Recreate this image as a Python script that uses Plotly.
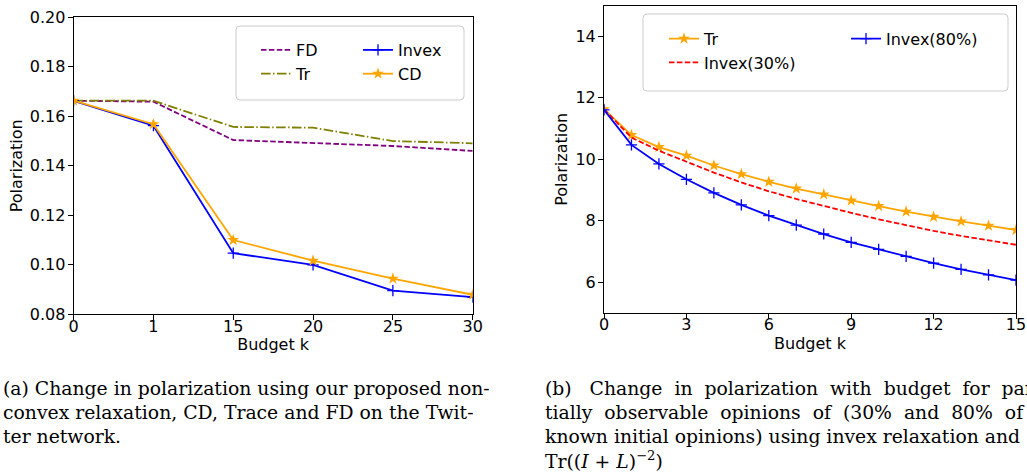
import plotly.graph_objects as go

W, H = 1027, 473

# ---- Left panel data (Twitter network) ----
budget_a = ["0", "1", "15", "20", "25", "30"]
fd_a = [0.1663, 0.1659, 0.1504, 0.1491, 0.1480, 0.1460]
tr_a = [0.1663, 0.1663, 0.1557, 0.1554, 0.1500, 0.1491]
invex_a = [0.1662, 0.1562, 0.1047, 0.1000, 0.0896, 0.0869]
cd_a = [0.1663, 0.1568, 0.1100, 0.1017, 0.0944, 0.0879]

# ---- Right panel data (partially observable opinions) ----
budget_b = list(range(16))
tr_b = [11.63, 10.79, 10.40, 10.12, 9.80, 9.52, 9.27, 9.05, 8.86, 8.66, 8.48, 8.30, 8.13, 7.98, 7.84, 7.70]
invex30_b = [11.63, 10.71, 10.28, 9.92, 9.57, 9.25, 8.96, 8.71, 8.48, 8.26, 8.05, 7.86, 7.67, 7.51, 7.36, 7.22]
invex80_b = [11.61, 10.47, 9.85, 9.35, 8.91, 8.52, 8.17, 7.86, 7.57, 7.30, 7.07, 6.84, 6.62, 6.42, 6.24, 6.07]

ticks_a_y = [0.08, 0.10, 0.12, 0.14, 0.16, 0.18, 0.20]
ticks_b_x = [0, 3, 6, 9, 12, 15]
ticks_b_y = [6, 8, 10, 12, 14]

caption_a = [
    "(a) Change in polarization using our proposed non-",
    "convex relaxation, CD, Trace and FD on the Twit-",
    "ter network.",
]
caption_b = [
    "(b)&nbsp;&nbsp; Change&nbsp; in&nbsp; polarization&nbsp; with&nbsp; budget&nbsp; for&nbsp; par-",
    "tially&nbsp; observable&nbsp; opinions&nbsp; of&nbsp; (30%&nbsp; and&nbsp; 80%&nbsp; of",
    "known initial opinions) using invex relaxation and",
    "Tr((<i>I</i> + <i>L</i>)<sup>−2</sup>)",
]

FONT = "DejaVu Sans"
SERIF = "DejaVu Serif"
LW = 1.8
DASH = "5.5px,2.4px"
DASHDOT = "9.6px,2.4px,1.5px,2.4px"

fig = go.Figure()

# Left panel traces
fig.add_trace(go.Scatter(x=budget_a, y=fd_a, name="FD", mode="lines",
                         line=dict(color="purple", width=LW, dash=DASH),
                         legend="legend", xaxis="x", yaxis="y"))
fig.add_trace(go.Scatter(x=budget_a, y=tr_a, name="Tr", mode="lines",
                         line=dict(color="olive", width=LW, dash=DASHDOT),
                         legend="legend", xaxis="x", yaxis="y"))
fig.add_trace(go.Scatter(x=budget_a, y=invex_a, name="Invex", mode="lines+markers",
                         line=dict(color="blue", width=LW),
                         marker=dict(symbol="cross-thin", size=8, line=dict(color="blue", width=1.3)),
                         legend="legend2", xaxis="x", yaxis="y"))
fig.add_trace(go.Scatter(x=budget_a, y=cd_a, name="CD", mode="lines+markers",
                         line=dict(color="orange", width=LW),
                         marker=dict(symbol="star", size=9, color="orange"),
                         legend="legend2", xaxis="x", yaxis="y"))

# Right panel traces
fig.add_trace(go.Scatter(x=budget_b, y=tr_b, name="Tr", mode="lines+markers",
                         line=dict(color="orange", width=LW),
                         marker=dict(symbol="star", size=9, color="orange"),
                         legend="legend3", xaxis="x2", yaxis="y2"))
fig.add_trace(go.Scatter(x=budget_b, y=invex30_b, name="Invex(30%)", mode="lines",
                         line=dict(color="red", width=LW, dash=DASH),
                         legend="legend3", xaxis="x2", yaxis="y2"))
fig.add_trace(go.Scatter(x=budget_b, y=invex80_b, name="Invex(80%)", mode="lines+markers",
                         line=dict(color="blue", width=LW),
                         marker=dict(symbol="cross-thin", size=8, line=dict(color="blue", width=1.3)),
                         legend="legend4", xaxis="x2", yaxis="y2"))

axis_common = dict(showline=True, linecolor="black", linewidth=1, mirror=True,
                   ticks="outside", ticklen=5, tickwidth=1, tickcolor="black",
                   showgrid=False, zeroline=False, automargin=False,
                   tickfont=dict(family=FONT, size=16, color="black"),
                   title_font=dict(family=FONT, size=16, color="black"))

px = lambda v: v / W
py = lambda v: (H - v) / H


def rounded_box(x0, y0, x1, y1, r=4):
    pts = [
        f"M {px(x0 + r)},{py(y0)}",
        f"L {px(x1 - r)},{py(y0)}",
        f"Q {px(x1)},{py(y0)} {px(x1)},{py(y0 + r)}",
        f"L {px(x1)},{py(y1 - r)}",
        f"Q {px(x1)},{py(y1)} {px(x1 - r)},{py(y1)}",
        f"L {px(x0 + r)},{py(y1)}",
        f"Q {px(x0)},{py(y1)} {px(x0)},{py(y1 - r)}",
        f"L {px(x0)},{py(y0 + r)}",
        f"Q {px(x0)},{py(y0)} {px(x0 + r)},{py(y0)}",
        "Z",
    ]
    return dict(type="path", xref="paper", yref="paper", path=" ".join(pts),
                line=dict(color="#cccccc", width=1), fillcolor="rgba(255,255,255,0.8)",
                layer="above")


def leg(x, y):
    return dict(orientation="v", x=px(x), y=py(y), xanchor="left", yanchor="top",
                bgcolor="rgba(0,0,0,0)", borderwidth=0,
                font=dict(family=FONT, size=16, color="black"))


fig.update_layout(
    width=W, height=H,
    margin=dict(l=0, r=0, t=0, b=0),
    plot_bgcolor="white", paper_bgcolor="white",
    font=dict(family=FONT, size=16, color="black"),
    xaxis=dict(axis_common, domain=[px(73.6), px(472.7)], anchor="y", type="category",
               range=[0, 5], ticklabelstandoff=-8, title=dict(text="Budget k", standoff=1)),
    yaxis=dict(axis_common, domain=[py(314.3), py(17.3)], anchor="x", range=[0.08, 0.20],
               tickvals=ticks_a_y, tickformat=".2f", ticklabelstandoff=-1,
               title=dict(text="Polarization", standoff=3)),
    xaxis2=dict(axis_common, domain=[px(604), px(1016)], anchor="y2", range=[0, 15],
                tickvals=ticks_b_x, ticklabelstandoff=-8, title=dict(text="Budget k", standoff=1)),
    yaxis2=dict(axis_common, domain=[py(313), py(5.7)], anchor="x2", range=[5, 15],
                tickvals=ticks_b_y, ticklabelstandoff=-1,
                title=dict(text="Polarization", standoff=3)),
    legend=leg(256, 33),
    legend2=leg(358, 33),
    legend3=leg(664, 21.7),
    legend4=leg(846, 21.7),
    shapes=[rounded_box(236, 26, 464, 100), rounded_box(643, 14, 1008, 91)],
)

line_y = [388, 412, 436, 460]
for i, t in enumerate(caption_a):
    fig.add_annotation(text=t, xref="paper", yref="paper", x=px(1), y=py(line_y[i]),
                       xanchor="left", yanchor="middle", showarrow=False,
                       font=dict(family=SERIF, size=18.8, color="black"))
for i, t in enumerate(caption_b):
    fig.add_annotation(text=t, xref="paper", yref="paper", x=px(543), y=py(line_y[i]),
                       xanchor="left", yanchor="middle", showarrow=False,
                       font=dict(family=SERIF, size=18.8, color="black"))

fig.write_html("out.html", config={"displayModeBar": False},
               post_script="document.body.style.margin='0';")
